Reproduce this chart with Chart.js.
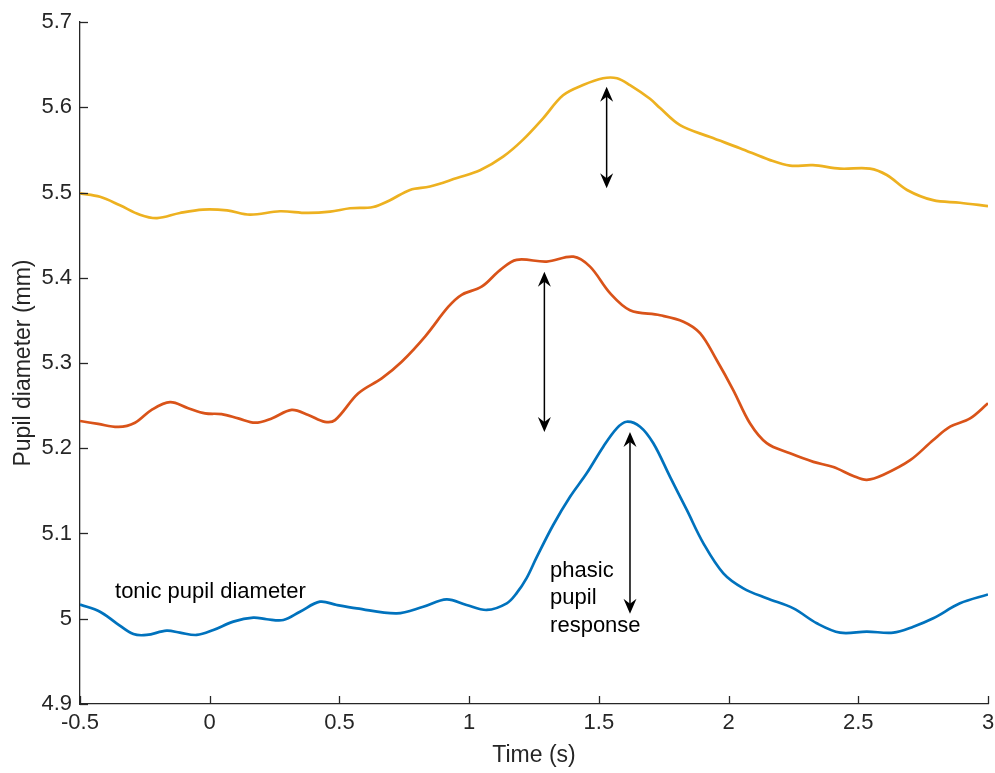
<!DOCTYPE html>
<html>
<head>
<meta charset="utf-8">
<title>Pupil diameter</title>
<script src="https://cdn.jsdelivr.net/npm/chart.js@4/dist/chart.umd.min.js"></script>
<style>
  html, body { margin: 0; padding: 0; background: #ffffff; }
  #wrap { width: 995px; height: 773px; position: relative; }
</style>
</head>
<body>
<div id="wrap"><canvas id="chart"></canvas></div>
<script>
// Axis ranges and tick spacing
const timeRange = [-0.5, 3];
const timeStep = 0.5;
const diameterRange = [4.9, 5.7];
const diameterStep = 0.1;

// Upper trace (yellow)
const yellowTime = [-0.5, -0.423, -0.346, -0.269, -0.203, -0.115, -0.026, 0.067, 0.155, 0.271, 0.375, 0.464, 0.541, 0.63, 0.695, 0.772, 0.849, 0.953, 1.042, 1.131, 1.208, 1.285, 1.362, 1.439, 1.516, 1.57, 1.62, 1.697, 1.736, 1.813, 1.929, 2.044, 2.16, 2.237, 2.325, 2.43, 2.545, 2.61, 2.688, 2.788, 2.892, 3.0];
const yellowDiameter = [5.499, 5.495, 5.485, 5.474, 5.470, 5.476, 5.480, 5.479, 5.474, 5.478, 5.476, 5.4775, 5.4815, 5.483, 5.491, 5.503, 5.507, 5.517, 5.526, 5.542, 5.562, 5.587, 5.614, 5.626, 5.634, 5.634, 5.626, 5.610, 5.599, 5.579, 5.565, 5.552, 5.538, 5.5315, 5.532, 5.528, 5.528, 5.5205, 5.503, 5.491, 5.488, 5.484];

// Middle trace (orange-red)
const redTime = [-0.5, -0.43, -0.352, -0.288, -0.224, -0.153, -0.083, -0.018, 0.046, 0.110, 0.175, 0.239, 0.316, 0.380, 0.444, 0.483, 0.573, 0.663, 0.740, 0.830, 0.920, 0.971, 1.048, 1.119, 1.183, 1.299, 1.402, 1.466, 1.543, 1.620, 1.736, 1.826, 1.890, 1.954, 2.018, 2.083, 2.147, 2.237, 2.327, 2.404, 2.481, 2.533, 2.597, 2.700, 2.789, 2.854, 2.931, 3.0];
const redDiameter = [5.232, 5.2285, 5.225, 5.230, 5.245, 5.254, 5.247, 5.241, 5.240, 5.235, 5.230, 5.235, 5.245, 5.239, 5.231, 5.233, 5.2645, 5.282, 5.3015, 5.331, 5.366, 5.380, 5.3895, 5.409, 5.421, 5.419, 5.4247, 5.413, 5.382, 5.362, 5.356, 5.3485, 5.335, 5.3035, 5.2683, 5.229, 5.206, 5.194, 5.184, 5.178, 5.1675, 5.163, 5.169, 5.186, 5.2097, 5.2253, 5.235, 5.2527];

// Lower trace (blue)
const blueTime = [-0.5, -0.423, -0.359, -0.294, -0.243, -0.166, -0.115, -0.050, 0.014, 0.091, 0.168, 0.22, 0.284, 0.348, 0.425, 0.49, 0.567, 0.721, 0.823, 0.913, 0.990, 1.068, 1.145, 1.183, 1.222, 1.26, 1.324, 1.389, 1.453, 1.517, 1.569, 1.607, 1.659, 1.710, 1.774, 1.839, 1.903, 1.980, 2.057, 2.147, 2.250, 2.340, 2.430, 2.533, 2.635, 2.712, 2.789, 2.892, 3.0];
const blueDiameter = [5.0167, 5.0083, 4.9947, 4.982, 4.981, 4.986, 4.9837, 4.981, 4.9868, 4.9966, 5.0013, 4.9994, 4.9985, 5.0083, 5.020, 5.0161, 5.0122, 5.0063, 5.0141, 5.0228, 5.0161, 5.0103, 5.0181, 5.030, 5.048, 5.072, 5.110, 5.1431, 5.1706, 5.2018, 5.2234, 5.2311, 5.2253, 5.2058, 5.1667, 5.1276, 5.0885, 5.0533, 5.0357, 5.024, 5.0122, 4.9947, 4.9837, 4.9849, 4.9837, 4.9907, 5.0005, 5.0181, 5.0285];

// Double-headed arrows: time and the two diameters they span
const arrowTime = [1.53, 1.29, 1.62];
const arrowLow = [5.505, 5.219, 5.006];
const arrowHigh = [5.624, 5.407, 5.219];

// Text notes: anchor time / diameter of first baseline
const noteText = [['tonic pupil diameter'], ['phasic', 'pupil', 'response']];
const noteTime = [-0.365, 1.312];
const noteDiameter = [5.0243, 5.0494];

const FONT = '"Liberation Sans", Arial, Helvetica, sans-serif';
const AXIS_COLOR = '#262626';

function zip(xs, ys) { return xs.map((x, i) => ({ x: x, y: ys[i] })); }
function fmt(v) { return String(Math.round(v * 10) / 10); }

// Inward tick marks, MATLAB style
const inwardTicks = {
  id: 'inwardTicks',
  afterDraw(chart) {
    const { ctx, scales: { x, y }, chartArea: a } = chart;
    ctx.save();
    ctx.strokeStyle = AXIS_COLOR;
    ctx.lineWidth = 1.3;
    const len = 8;
    x.ticks.forEach(t => {
      const px = Math.round(x.getPixelForValue(t.value)) + 0.5;
      ctx.beginPath(); ctx.moveTo(px, a.bottom); ctx.lineTo(px, a.bottom - len); ctx.stroke();
    });
    y.ticks.forEach(t => {
      const py = Math.round(y.getPixelForValue(t.value)) + 0.5;
      ctx.beginPath(); ctx.moveTo(a.left, py); ctx.lineTo(a.left + len, py); ctx.stroke();
    });
    ctx.restore();
  }
};

function arrowHead(ctx, x, y, dir) {
  // dir = -1 points up, +1 points down; (x, y) is the tip
  const L = 15, W = 6.5, notch = 5;
  ctx.beginPath();
  ctx.moveTo(x, y);
  ctx.lineTo(x - W, y - dir * L);
  ctx.lineTo(x, y - dir * (L - notch));
  ctx.lineTo(x + W, y - dir * L);
  ctx.closePath();
  ctx.fill();
}

const notes = {
  id: 'notes',
  afterDatasetsDraw(chart) {
    const { ctx, scales: { x, y } } = chart;
    ctx.save();
    ctx.strokeStyle = '#000';
    ctx.fillStyle = '#000';
    ctx.lineWidth = 1.5;
    arrowTime.forEach((t, i) => {
      const px = x.getPixelForValue(t);
      const top = y.getPixelForValue(arrowHigh[i]);
      const bot = y.getPixelForValue(arrowLow[i]);
      ctx.beginPath(); ctx.moveTo(px, top + 8); ctx.lineTo(px, bot - 8); ctx.stroke();
      arrowHead(ctx, px, top, -1);
      arrowHead(ctx, px, bot, 1);
    });
    ctx.font = '22px ' + FONT;
    ctx.textAlign = 'left';
    ctx.textBaseline = 'alphabetic';
    noteText.forEach((lines, i) => {
      const px = x.getPixelForValue(noteTime[i]);
      const py = y.getPixelForValue(noteDiameter[i]);
      lines.forEach((s, k) => ctx.fillText(s, px, py + k * 27.5));
    });
    ctx.restore();
  }
};

const lineStyle = { pointRadius: 0, borderWidth: 2.7, fill: false, tension: 0.35 };

new Chart(document.getElementById('chart'), {
  type: 'line',
  data: {
    datasets: [
      Object.assign({ label: 'blue', data: zip(blueTime, blueDiameter), borderColor: '#0072BD' }, lineStyle),
      Object.assign({ label: 'red', data: zip(redTime, redDiameter), borderColor: '#D95319' }, lineStyle),
      Object.assign({ label: 'yellow', data: zip(yellowTime, yellowDiameter), borderColor: '#EDB120' }, lineStyle)
    ]
  },
  options: {
    responsive: true,
    maintainAspectRatio: false,
    animation: false,
    events: [],
    layout: { padding: { top: 22, right: 7, left: 0, bottom: 0 } },
    plugins: { legend: { display: false }, tooltip: { enabled: false } },
    scales: {
      x: {
        type: 'linear',
        min: timeRange[0], max: timeRange[1],
        afterFit: s => { s.height = 69; s.paddingLeft = 0; s.paddingRight = 0; },
        grid: { display: false, drawTicks: false },
        border: { display: true, color: AXIS_COLOR, width: 1.3 },
        ticks: { stepSize: timeStep, padding: 6, color: AXIS_COLOR, font: { family: FONT, size: 22 }, callback: fmt, maxRotation: 0 },
        title: { display: true, text: 'Time (s)', color: AXIS_COLOR, font: { family: FONT, size: 23 }, padding: { top: 0, bottom: 4 } }
      },
      y: {
        min: diameterRange[0], max: diameterRange[1],
        afterFit: s => { s.width = 80; s.paddingTop = 0; s.paddingBottom = 0; },
        grid: { display: false, drawTicks: false },
        border: { display: true, color: AXIS_COLOR, width: 1.3 },
        ticks: { stepSize: diameterStep, padding: 8, color: AXIS_COLOR, font: { family: FONT, size: 22 }, callback: fmt },
        title: { display: true, text: 'Pupil diameter (mm)', color: AXIS_COLOR, font: { family: FONT, size: 23 }, padding: { top: 10, bottom: 0 } }
      }
    }
  },
  plugins: [inwardTicks, notes]
});
</script>
</body>
</html>
